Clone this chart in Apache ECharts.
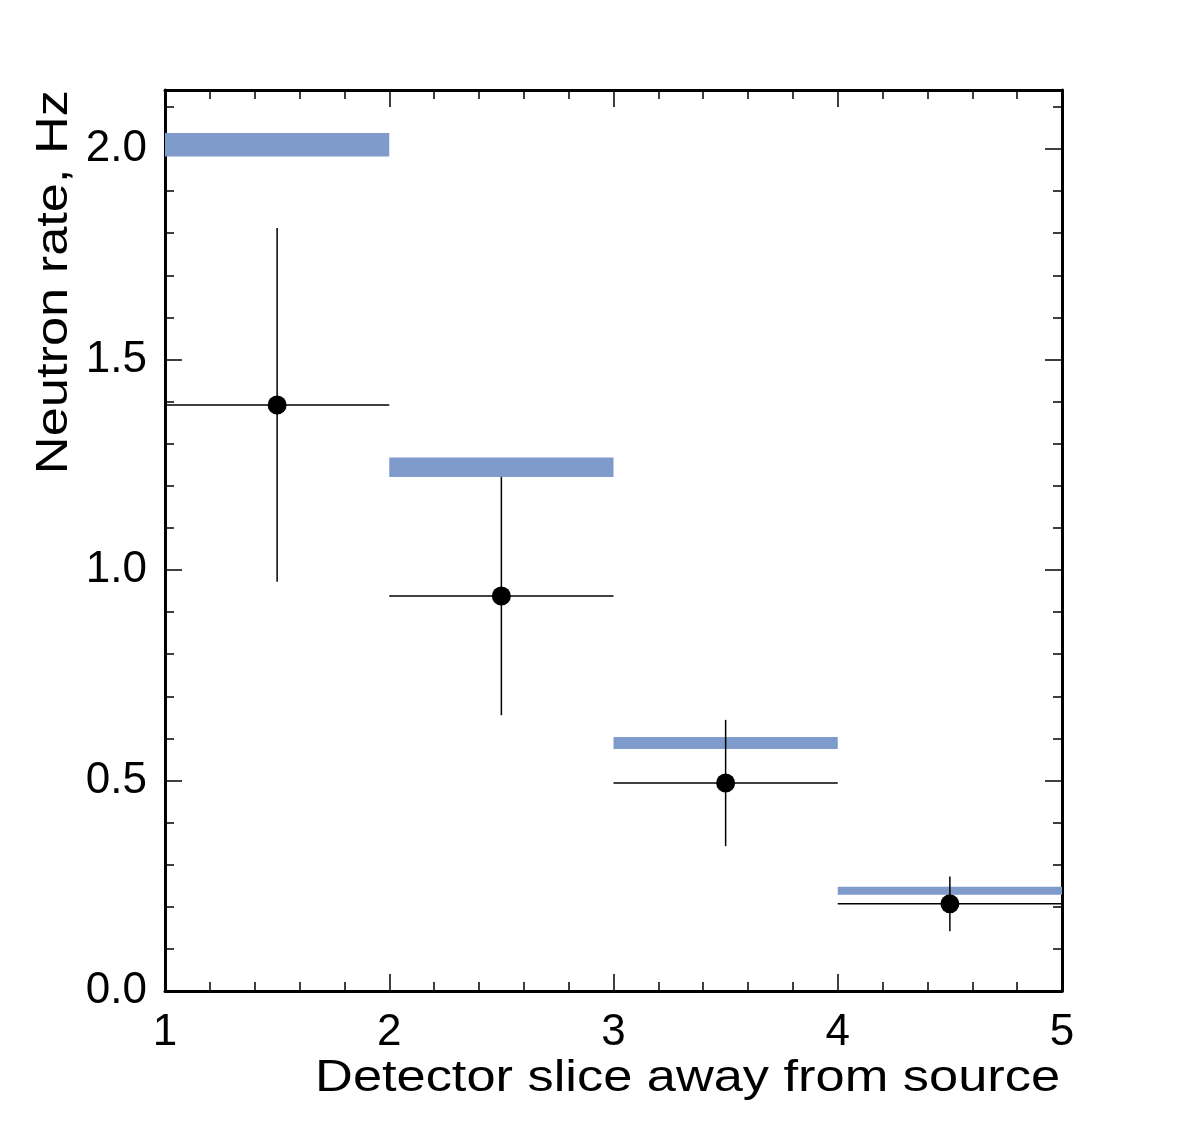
<!DOCTYPE html>
<html style="height: 100%">
<head>
<meta charset="utf-8">
<script type="text/javascript" src="https://cdn.jsdelivr.net/npm/echarts@6/dist/echarts.min.js"></script>
</head>
<body style="width: 100%; height: 100%; margin: 0; background: #fff">
<div id="main" style="width: 1182px; height: 1128px;"></div>
<script type="text/javascript">

// bins along the detector
var binLow = [1, 2, 3, 4];
var binHigh = [2, 3, 4, 5];
// expected rate band (centre, half width)
var predCenter = [2.010, 1.244, 0.589, 0.238];
var predHalf = [0.028, 0.023, 0.014, 0.0095];
// measured points
var measX = [1.5, 2.5, 3.5, 4.5];
var measY = [1.392, 0.938, 0.494, 0.207];
var measErr = [0.420, 0.283, 0.150, 0.065];
// y tick positions
var yMajor = [0, 0.5, 1.0, 1.5, 2.0];
var yMinor = [0.1, 0.2, 0.3, 0.4, 0.6, 0.7, 0.8, 0.9, 1.1, 1.2, 1.3, 1.4, 1.6, 1.7, 1.8, 1.9, 2.1];

var FONT = 'Liberation Sans';
var myChart = echarts.init(document.getElementById('main'));

var bandData = [];
var errData = [];
var pointData = [];
for (var i = 0; i < binLow.length; i++) {
    bandData.push([binLow[i], binHigh[i], predCenter[i], predHalf[i]]);
    errData.push([binLow[i], binHigh[i], measX[i], measY[i], measErr[i]]);
    pointData.push([measX[i], measY[i]]);
}

var gridRect = {left: 165, right: 120, top: 90, bottom: 137};

var frameAxisY = function(pos, labels) {
    return {
        type: 'value', gridIndex: 0, position: pos,
        min: 0, max: 2.14,
        axisLine: {show: true, onZero: false, lineStyle: {color: '#000', width: 3}},
        axisTick: {show: true, inside: true, length: 17, customValues: yMajor, lineStyle: {color: '#000', width: 1.5}},
        axisLabel: {show: labels, customValues: yMajor, margin: 18, color: '#000', fontFamily: FONT, fontSize: 44,
            formatter: function(v) { return v.toFixed(1); }},
        splitLine: {show: false}
    };
};
var minorAxisY = function(pos) {
    return {
        type: 'value', gridIndex: 1, position: pos,
        min: 0, max: 2.14,
        axisLine: {show: false},
        axisTick: {show: true, inside: true, length: 9, customValues: yMinor, lineStyle: {color: '#000', width: 1.5}},
        axisLabel: {show: false},
        splitLine: {show: false}
    };
};
var frameAxisX = function(pos, labels) {
    return {
        type: 'value', gridIndex: 0, position: pos,
        min: 1, max: 5, interval: 1,
        axisLine: {show: true, onZero: false, lineStyle: {color: '#000', width: 3}},
        axisTick: {show: true, inside: true, length: 17, lineStyle: {color: '#000', width: 1.5}},
        minorTick: {show: true, splitNumber: 5, length: 9, lineStyle: {color: '#000', width: 1.5}},
        axisLabel: {show: labels, margin: 20, color: '#000', fontFamily: FONT, fontSize: 44},
        splitLine: {show: false}
    };
};

var option = {
    animation: false,
    backgroundColor: '#fff',
    grid: [gridRect, gridRect],
    xAxis: [
        frameAxisX('bottom', true),
        frameAxisX('top', false),
        {type: 'value', gridIndex: 1, min: 1, max: 5, show: false}
    ],
    yAxis: [
        frameAxisY('left', true),
        frameAxisY('right', false),
        minorAxisY('left'),
        minorAxisY('right')
    ],
    graphic: [
        // titles are drawn a bit wider than the font, as in the original
        {type: 'text', x: 55, y: 90, rotation: Math.PI / 2, scaleX: 1.19,
         style: {text: 'Neutron rate, Hz', fill: '#000', font: '44px "Liberation Sans"', align: 'right', verticalAlign: 'middle'}},
        {type: 'text', x: 1060, y: 1101, scaleX: 1.19,
         style: {text: 'Detector slice away from source', fill: '#000', font: '44px "Liberation Sans"', align: 'right', verticalAlign: 'bottom'}}
    ],
    series: [
        {
            type: 'custom', xAxisIndex: 0, yAxisIndex: 0, z: 2,
            data: bandData,
            renderItem: function(params, api) {
                var p0 = api.coord([api.value(0), api.value(2) + api.value(3)]);
                var p1 = api.coord([api.value(1), api.value(2) - api.value(3)]);
                return {type: 'rect', shape: {x: p0[0], y: p0[1], width: p1[0] - p0[0], height: p1[1] - p0[1]},
                        style: {fill: '#7f9bcc'}};
            }
        },
        {
            type: 'custom', xAxisIndex: 0, yAxisIndex: 0, z: 3,
            data: errData,
            renderItem: function(params, api) {
                var y = api.value(3), e = api.value(4), x = api.value(2);
                var a = api.coord([api.value(0), y]);
                var b = api.coord([api.value(1), y]);
                var c = api.coord([x, y + e]);
                var d = api.coord([x, y - e]);
                var st = {stroke: '#000', lineWidth: 1.5};
                return {type: 'group', children: [
                    {type: 'line', shape: {x1: a[0], y1: a[1], x2: b[0], y2: b[1]}, style: st},
                    {type: 'line', shape: {x1: c[0], y1: c[1], x2: d[0], y2: d[1]}, style: st}
                ]};
            }
        },
        {
            type: 'scatter', xAxisIndex: 0, yAxisIndex: 0, z: 4,
            symbol: 'circle', symbolSize: 19,
            itemStyle: {color: '#000', opacity: 1},
            data: pointData
        }
    ]
};
myChart.setOption(option);

</script>
</body>
</html>
